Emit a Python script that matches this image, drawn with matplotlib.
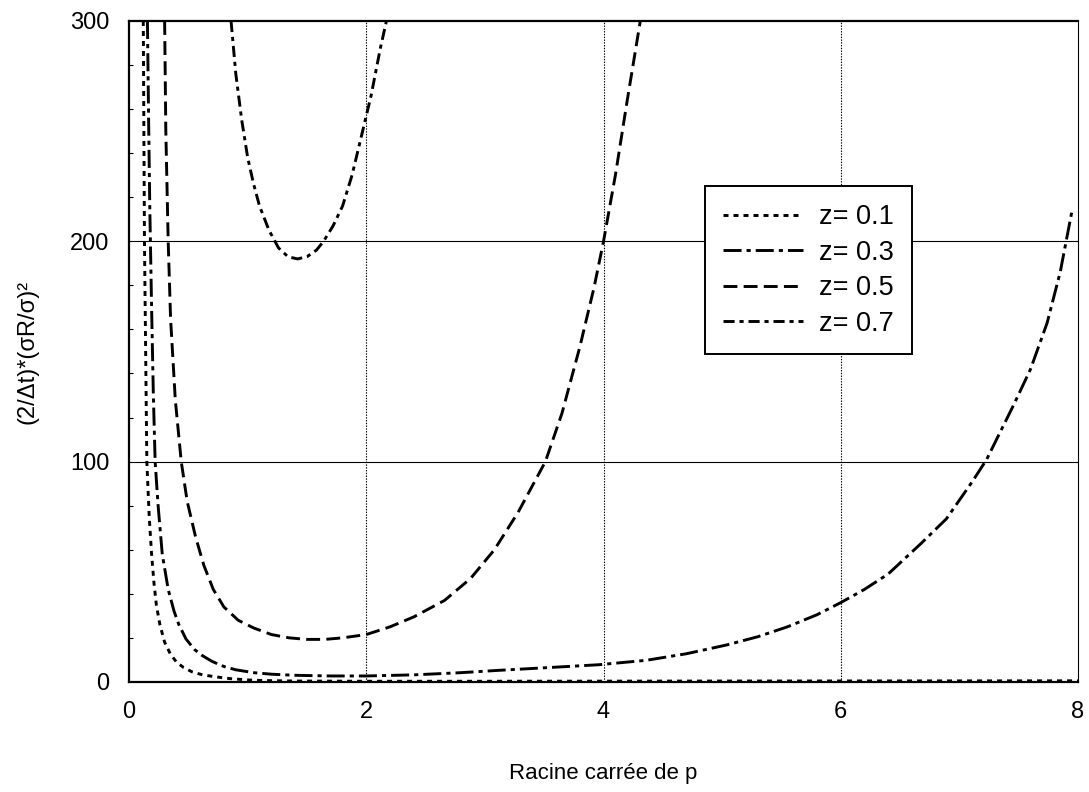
import matplotlib
matplotlib.use("Agg")
import matplotlib.pyplot as plt
from matplotlib.ticker import MultipleLocator

plt.rcParams["font.family"] = ["Liberation Sans", "DejaVu Sans"]
plt.rcParams["lines.scale_dashes"] = False

# valeurs (x = racine carrée de p)
z01_x = [0.12, 0.125, 0.13, 0.14, 0.15, 0.17, 0.19, 0.21, 0.23, 0.26, 0.30, 0.35, 0.40,
         0.46, 0.53, 0.62, 0.73, 0.85, 1.0, 1.15, 1.4, 2.0, 3.0, 5.0, 8.0]
z01_y = [300, 250, 200, 150, 100, 75, 58, 45, 35, 26, 18, 12.5, 9.0,
         6.5, 4.6, 3.2, 2.3, 1.5, 0.9, 0.6, 0.4, 0.3, 0.3, 0.4, 0.5]

z03_x = [0.155, 0.165, 0.175, 0.19, 0.205, 0.22, 0.245, 0.28, 0.33, 0.38, 0.42, 0.48, 0.55,
         0.61, 0.70, 0.80, 0.90, 1.05, 1.2, 1.4, 1.7, 2.0, 2.4, 2.8, 3.1, 3.5, 3.96, 4.36,
         4.7, 5.04, 5.3, 5.55, 5.8, 6.0, 6.2, 6.4, 6.68, 6.89, 7.11, 7.23, 7.46, 7.6, 7.74,
         7.85, 7.95]
z03_y = [300, 255, 215, 170, 130, 100, 80, 58, 42, 32, 26, 19.5, 14.8,
         12.2, 9.3, 7.0, 5.5, 4.2, 3.5, 3.0, 2.7, 2.7, 3.2, 4.2, 5.2, 6.4, 7.8, 9.8,
         12.8, 16.8, 20.5, 25, 30.5, 36, 42, 49, 63, 74, 91, 101, 126, 142, 163,
         186, 214]

z05_x = [0.30, 0.31, 0.33, 0.35, 0.39, 0.44, 0.49, 0.56, 0.63, 0.71, 0.80, 0.92, 1.05,
         1.2, 1.35, 1.5, 1.65, 1.8, 2.0, 2.2, 2.4, 2.66, 2.88, 3.08, 3.28, 3.51, 3.65,
         3.80, 3.92, 4.0, 4.1, 4.2, 4.31]
z05_y = [300, 250, 200, 165, 128, 100, 82, 66, 53, 42, 34, 28, 24.5,
         21.5, 20, 19.3, 19.3, 20, 21.5, 25, 29.5, 37, 47, 60, 77, 100, 122,
         152, 179, 200, 230, 264, 300]

z07_x = [0.86, 0.90, 0.95, 1.0, 1.05, 1.1, 1.18, 1.26, 1.34, 1.42, 1.50, 1.58,
         1.64, 1.72, 1.80, 1.88, 1.96, 2.04, 2.12, 2.17]
z07_y = [300, 276, 255, 238, 226, 216, 205, 197, 193, 192, 193, 196,
         200, 207, 216, 230, 248, 266, 288, 300]

labels = ["z= 0.1", "z= 0.3", "z= 0.5", "z= 0.7"]
series = [(z01_x, z01_y), (z03_x, z03_y), (z05_x, z05_y), (z07_x, z07_y)]
dashes = [(3.6, 3.6), (13, 3.6, 3, 3.6), (10, 4.5), (8, 3.5, 3, 3.5)]

fig = plt.figure(figsize=(10.89, 7.92), dpi=100)
ax = fig.add_axes([0.1185, 0.139, 0.8714, 0.8345])

for (x, y), d, lab in zip(series, dashes, labels):
    ax.plot(x, y, color="black", lw=2.1, dashes=d, label=lab)

ax.set_xlim(0, 8)
ax.set_ylim(0, 300)
ax.set_xticks([0, 2, 4, 6, 8])
ax.set_yticks([0, 100, 200, 300])
ax.yaxis.set_minor_locator(MultipleLocator(20))
ax.tick_params(which="major", length=0, labelsize=17)
ax.tick_params(which="minor", direction="in", length=3, width=0.8)
ax.tick_params(axis="x", pad=14)
ax.tick_params(axis="y", pad=14)

for y in (100, 200):
    ax.axhline(y, color="black", lw=0.8, zorder=0)
for x in (2, 4, 6):
    ax.axvline(x, color="black", lw=0.8, ls=(0, (1, 1)), zorder=0)

for s in ("left", "bottom", "top"):
    ax.spines[s].set_linewidth(1.6)
ax.spines["right"].set_linewidth(0.8)

ax.set_xlabel("Racine carrée de p", fontsize=16)
ax.set_ylabel("(2/Δt)*(σR/σ)²", fontsize=17)
ax.xaxis.set_label_coords(0.5, -0.138)
ax.xaxis.label.set_va("center")
ax.yaxis.set_label_coords(-0.1075, 0.5)
ax.yaxis.label.set_va("center")

leg = ax.legend(loc="upper left", bbox_to_anchor=(0.607, 0.750), borderaxespad=0,
                fontsize=19.5, handlelength=2.95, handletextpad=0.6, labelspacing=0.35,
                fancybox=False, framealpha=1, edgecolor="black", borderpad=0.66)
leg.get_frame().set_linewidth(1.4)

fig.savefig("out.png", dpi=100)
